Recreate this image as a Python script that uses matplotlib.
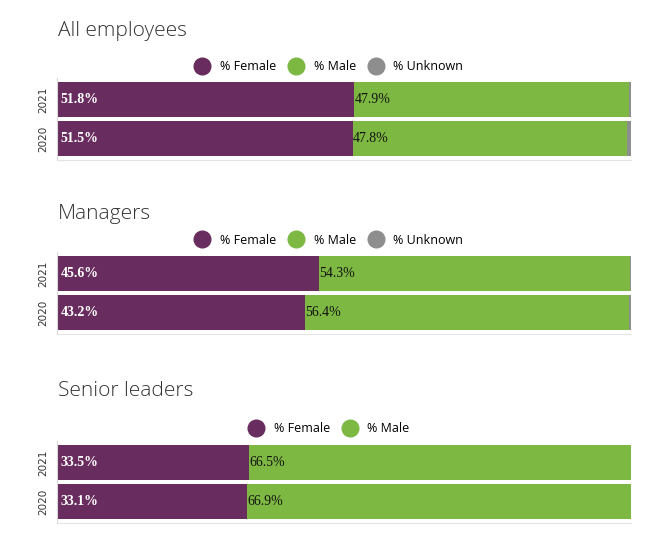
import numpy as np
import matplotlib
matplotlib.use('Agg')
import matplotlib.pyplot as plt
from matplotlib.lines import Line2D

# dados (ordem: 2020, 2021)
years = ['2020', '2021']
all_female = [51.5, 51.8]
all_male = [47.8, 47.9]
all_unknown = [0.7, 0.3]
mgr_female = [43.2, 45.6]
mgr_male = [56.4, 54.3]
mgr_unknown = [0.4, 0.1]
sen_female = [33.1, 33.5]
sen_male = [66.9, 66.5]

purple = '#682d5e'
green = '#7db843'
grey = '#8e8e8e'

W, H = 657, 553
fig = plt.figure(figsize=(W / 100, H / 100), dpi=100)


def panel(top_px, title, title_y, female, male, unknown, leg_y):
    ax = fig.add_axes([57 / W, 1 - (top_px + 82) / H, 574 / W, 82 / H])
    y = np.arange(len(years))
    ax.barh(y, female, height=0.9, color=purple)
    ax.barh(y, male, left=female, height=0.9, color=green)
    handles = [Line2D([], [], marker='o', ls='', color=purple, markersize=12, label='% Female'),
               Line2D([], [], marker='o', ls='', color=green, markersize=12, label='% Male')]
    if unknown is not None:
        ax.barh(y, unknown, left=np.add(female, male), height=0.9, color=grey)
        handles.append(Line2D([], [], marker='o', ls='', color=grey, markersize=12, label='% Unknown'))
    for i in range(len(years)):
        ax.text(0.6, y[i], '%.1f%%' % female[i], color='white', va='center', ha='left',
                fontsize=10, fontweight='bold', family='Liberation Serif')
        ax.text(female[i] + 0.1, y[i], '%.1f%%' % male[i], color='#111111', va='center', ha='left',
                fontsize=10, family='Liberation Serif')
    ax.set_xlim(0, 100)
    ax.set_ylim(-0.55, 1.55)
    ax.set_xticks([])
    ax.set_yticks(y)
    ax.set_yticklabels(years, rotation=90, va='center', fontsize=7.5, color='#333333')
    ax.tick_params(axis='y', length=0, pad=6)
    for s in ['top', 'right']:
        ax.spines[s].set_visible(False)
    ax.spines['left'].set_color('#d8d8d8')
    ax.spines['bottom'].set_color('#e4e4e4')
    ax.legend(handles=handles, loc='center', bbox_to_anchor=(0.474, 1 + leg_y / 82),
              ncol=len(handles), frameon=False, handletextpad=0.8, columnspacing=1.0,
              handlelength=1.2, prop={'family': 'Open Sans', 'size': 9})
    fig.text(58 / W, 1 - title_y / H, title, fontsize=15, color='#333333',
             va='center', ha='left', family='Open Sans', fontweight='light')
    return ax


panel(78, 'All employees', 31, all_female, all_male, all_unknown, 11)
panel(252, 'Managers', 214, mgr_female, mgr_male, mgr_unknown, 12)
panel(441, 'Senior leaders', 391, sen_female, sen_male, None, 12)

fig.savefig('out.png', dpi=100)
